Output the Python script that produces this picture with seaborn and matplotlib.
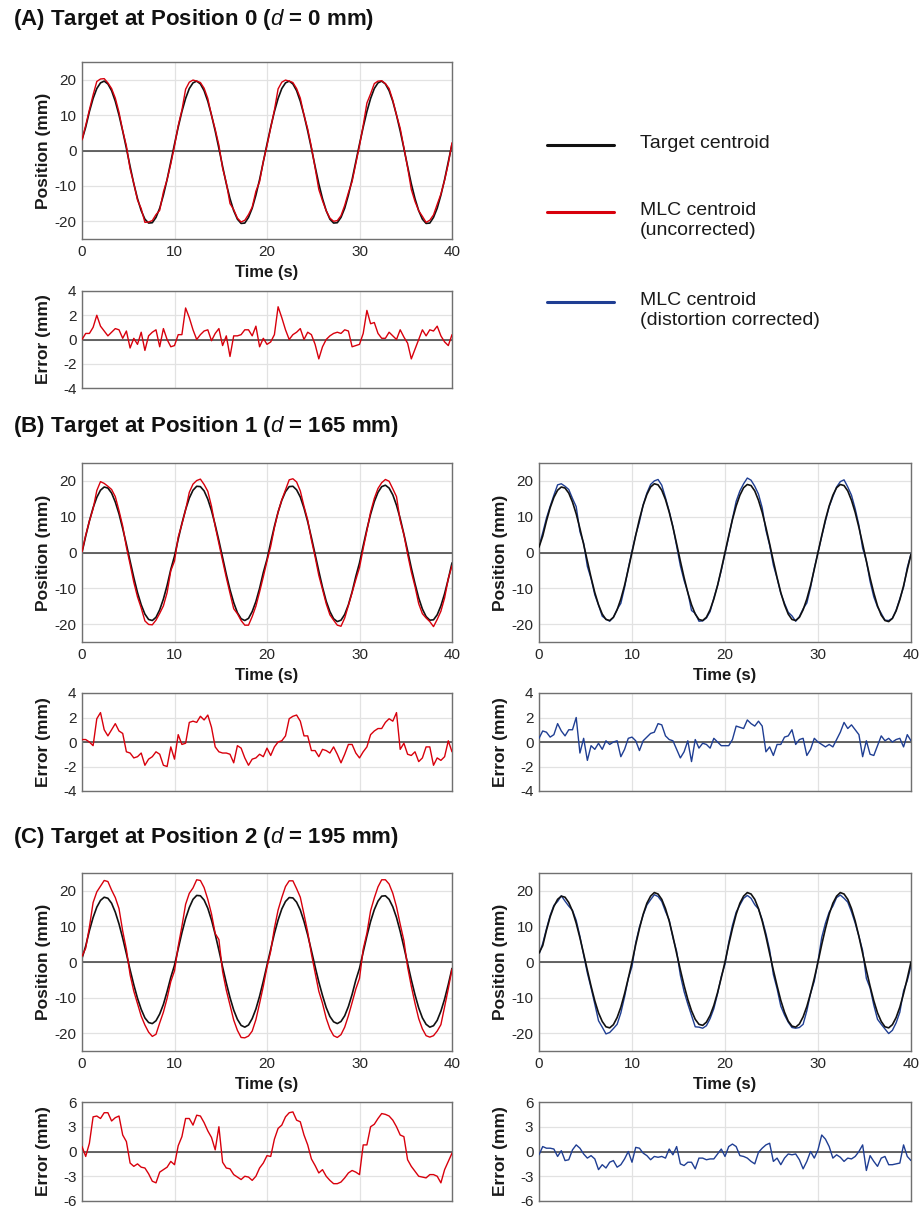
import numpy as np
import pandas as pd
import matplotlib
matplotlib.use("Agg")
import matplotlib.pyplot as plt
from matplotlib.lines import Line2D
import seaborn as sns

sns.set_style("white")
plt.rcParams['font.family'] = ['Liberation Sans', 'DejaVu Sans']
plt.rcParams['mathtext.fontset'] = 'custom'
plt.rcParams['mathtext.it'] = 'Liberation Sans:italic'
plt.rcParams['axes.unicode_minus'] = False

# ---------------- data (0.4 s sampling) ----------------
# target centroid positions (mm)
target_a = [3.0, 6.6, 11.0, 14.7, 17.5, 19.1, 19.6, 18.8, 16.9, 13.9,
            10.0, 5.5, 0.6, -4.5, -9.4, -13.6, -17.0, -19.4, -20.5, -20.4,
            -18.9, -16.3, -12.6, -8.2, -3.2,
            1.8, 6.6, 11.0, 14.7, 17.5, 19.1, 19.6, 18.8, 16.9, 13.9,
            10.0, 5.5, 0.6, -4.5, -9.4, -13.6, -17.0, -19.4, -20.6, -20.5,
            -18.9, -16.3, -12.6, -8.2, -3.2,
            1.8, 6.6, 11.0, 14.7, 17.5, 19.1, 19.6, 18.8, 16.9, 13.9,
            10.0, 5.5, 0.6, -4.5, -9.4, -13.6, -17.0, -19.4, -20.5, -20.4,
            -18.9, -16.3, -12.6, -8.2, -3.2,
            1.8, 6.6, 11.0, 14.7, 17.5, 19.1, 19.6, 18.8, 16.9, 13.9,
            10.0, 5.5, 0.6, -4.5, -9.4, -13.6, -17.0, -19.4, -20.6, -20.5,
            -18.9, -16.3, -12.6, -8.2, -3.2,
            1.8]

target_b_left = [0.0, 4.6, 8.8, 12.5, 15.4, 17.4, 18.3, 18.0, 16.6, 14.1,
                 10.8, 6.7, 2.3, -2.4, -7.0, -11.2, -14.6, -17.2, -18.7, -19.0,
                 -18.1, -16.0, -13.0, -9.2, -4.7,
                 -1.0, 3.7, 8.1, 12.0, 15.2, 17.4, 18.5, 18.4, 17.2, 14.9,
                 11.7, 7.7, 3.3, -1.4, -6.1, -10.4, -14.0, -16.8, -18.5, -19.0,
                 -18.4, -16.5, -13.7, -10.0, -5.6,
                 -1.9, 2.8, 7.3, 11.3, 14.6, 17.0, 18.4, 18.5, 17.5, 15.5,
                 12.4, 8.6, 4.2, -0.5, -5.2, -9.7, -13.6, -16.5, -18.5, -19.3,
                 -18.9, -17.3, -14.6, -11.0, -6.7,
                 -2.9, 1.9, 6.5, 10.7, 14.2, 16.8, 18.4, 18.8, 18.0, 16.1,
                 13.2, 9.5, 5.1, 0.5, -4.3, -8.7, -12.7, -15.8, -17.9, -18.9,
                 -18.8, -17.4, -14.9, -11.5, -7.4,
                 -2.9]

target_b_right = [1.5, 4.6, 8.8, 12.5, 15.4, 17.4, 18.3, 18.0, 16.6, 14.1,
                  10.8, 6.7, 2.3, -2.4, -7.0, -11.2, -14.6, -17.2, -18.7, -19.0,
                  -18.1, -16.0, -13.0, -9.2, -4.7,
                  0.0, 4.8, 9.3, 13.2, 16.2, 18.3, 19.2, 18.9, 17.4, 14.8,
                  11.3, 7.1, 2.4, -2.4, -7.0, -11.2, -14.6, -17.2, -18.7, -19.0,
                  -18.1, -16.0, -13.0, -9.2, -4.7,
                  0.0, 4.7, 9.2, 13.0, 16.0, 18.1, 19.0, 18.7, 17.2, 14.6,
                  11.2, 7.0, 2.4, -2.4, -7.0, -11.2, -14.6, -17.2, -18.7, -19.0,
                  -18.1, -16.0, -13.0, -9.2, -4.7,
                  0.0, 4.7, 9.2, 13.0, 16.0, 18.1, 19.0, 18.7, 17.2, 14.6,
                  11.2, 7.0, 2.4, -2.4, -7.1, -11.3, -14.9, -17.5, -19.0, -19.3,
                  -18.4, -16.3, -13.2, -9.3, -4.8,
                  -0.5]

target_c_left = [1.0, 4.5, 8.8, 12.5, 15.4, 17.3, 18.2, 17.9, 16.5, 14.0,
                 10.7, 6.7, 2.3, -2.2, -6.4, -10.2, -13.3, -15.7, -17.0, -17.3,
                 -16.5, -14.6, -11.9, -8.3, -4.3,
                 -0.9, 3.7, 8.2, 12.2, 15.3, 17.6, 18.7, 18.6, 17.4, 15.1,
                 11.8, 7.8, 3.3, -1.4, -5.9, -10.0, -13.5, -16.1, -17.8, -18.3,
                 -17.7, -15.9, -13.2, -9.6, -5.4,
                 -0.9, 3.6, 8.0, 11.8, 14.9, 17.0, 18.1, 18.0, 16.8, 14.6,
                 11.4, 7.6, 3.2, -1.3, -5.6, -9.4, -12.8, -15.3, -16.8, -17.3,
                 -16.7, -15.1, -12.5, -9.1, -5.1,
                 -1.8, 2.8, 7.3, 11.4, 14.7, 17.1, 18.5, 18.6, 17.6, 15.5,
                 12.5, 8.6, 4.2, -0.4, -5.0, -9.2, -12.9, -15.7, -17.5, -18.3,
                 -17.9, -16.4, -13.8, -10.4, -6.3,
                 -1.8]

target_c_right = [2.5, 4.6, 8.9, 12.7, 15.6, 17.6, 18.5, 18.2, 16.7, 14.3,
                  10.9, 6.8, 2.3, -2.3, -6.8, -10.9, -14.3, -16.7, -18.2, -18.5,
                  -17.6, -15.6, -12.7, -8.9, -4.6,
                  0.0, 4.9, 9.4, 13.4, 16.5, 18.5, 19.5, 19.1, 17.6, 15.0,
                  11.5, 7.2, 2.4, -2.2, -6.6, -10.5, -13.7, -16.1, -17.5, -17.8,
                  -16.9, -15.0, -12.2, -8.6, -4.4,
                  0.0, 4.9, 9.4, 13.4, 16.5, 18.5, 19.5, 19.1, 17.6, 15.0,
                  11.5, 7.2, 2.4, -2.3, -6.7, -10.8, -14.1, -16.6, -18.0, -18.3,
                  -17.4, -15.4, -12.5, -8.8, -4.6,
                  0.0, 4.9, 9.4, 13.4, 16.5, 18.5, 19.5, 19.1, 17.6, 15.0,
                  11.5, 7.2, 2.4, -2.3, -6.8, -10.9, -14.3, -16.7, -18.2, -18.5,
                  -17.6, -15.6, -12.7, -8.9, -4.6,
                  0.0]

# MLC - target errors (mm)
err_a = [0.0, 0.5, 0.5, 1.0, 2.0, 1.1, 0.7, 0.3, 0.6, 0.9,
         0.8, 0.1, 0.7, -0.7, 0.1, -0.4, 0.6, -0.9, 0.3, 0.6,
         0.8, -0.6, 0.9, 0.0, -0.6, -0.5, 0.4, 0.4, 2.6, 1.8,
         0.8, 0.0, 0.4, 0.7, 0.8, -0.1, 0.5, 0.9, -0.5, 0.3,
         -1.4, 0.3, 0.3, 0.4, 0.8, 0.8, 0.3, 1.1, -0.6, 0.1,
         -0.4, -0.2, 0.4, 2.7, 1.8, 0.8, 0.0, 0.4, 0.6, 0.9,
         0.0, 0.6, 0.4, -0.4, -1.6, -0.6, 0.0, 0.3, 0.5, 0.6,
         0.5, 0.8, 0.7, -0.6, -0.5, -0.4, 0.5, 2.4, 1.3, 1.4,
         0.5, 0.1, 0.1, 0.6, 0.3, 0.0, 0.8, 0.2, -0.3, -1.6,
         -0.8, 0.0, 0.8, 0.3, 0.8, 0.7, 1.1, 0.3, -0.2, -0.5,
         0.4]

err_b_unc = [0.2, 0.2, 0.0, -0.3, 1.9, 2.4, 1.0, 0.5, 1.0, 1.5,
             0.9, 0.7, -0.8, -0.9, -1.3, -1.2, -0.9, -1.9, -1.4, -1.2,
             -0.8, -1.0, -1.9, -2.0, -0.4, -1.4, 0.6, -0.2, -0.1, 1.6,
             1.7, 1.6, 2.1, 1.8, 2.2, 1.2, -0.4, -0.8, -0.9, -0.9,
             -1.0, -1.7, -0.3, -0.5, -1.3, -1.9, -1.4, -1.3, -1.0, -1.2,
             -0.5, -1.1, -0.4, 0.0, 0.1, 0.5, 1.9, 2.1, 2.2, 1.7,
             0.5, 0.5, -0.7, -0.7, -1.2, -0.6, -0.7, -0.9, -0.4, -1.0,
             -1.7, -1.0, -0.2, -0.2, -0.9, -1.3, -0.8, -0.4, 0.6, 0.9,
             1.1, 1.1, 1.6, 1.9, 1.7, 2.4, -0.6, -0.1, -1.0, -1.1,
             -0.8, -1.6, -1.3, -0.4, -0.4, -1.9, -1.3, -1.5, -1.2, 0.1,
             -0.8]

err_b_cor = [0.3, 0.9, 0.8, 0.4, 0.6, 1.5, 0.9, 0.5, 1.0, 1.0,
             2.0, -0.9, 0.3, -1.5, -0.3, -0.6, -0.1, -0.6, 0.1, -0.2,
             0.0, 0.1, -1.2, -0.6, 0.3, 0.4, 0.1, -0.7, 0.1, 0.4,
             0.7, 0.8, 1.5, 1.4, 0.5, 0.2, 0.1, -0.6, -1.3, -0.8,
             0.1, -1.6, 0.2, -0.5, -0.1, -0.2, -0.5, 0.3, 0.0, -0.3,
             -0.3, -0.3, 0.2, 1.3, 1.2, 1.1, 1.8, 1.5, 1.3, 1.7,
             1.3, -0.8, -0.4, -1.1, -0.2, -0.2, 0.4, 0.5, 1.0, -0.2,
             0.2, 0.3, -1.1, -0.6, 0.3, 0.0, -0.2, -0.4, -0.2, -0.4,
             0.2, 0.8, 1.6, 1.1, 1.4, 1.0, 0.6, -1.2, 0.1, -1.0,
             -1.1, -0.3, 0.5, 0.1, 0.3, 0.0, 0.2, 0.3, -0.4, 0.6,
             0.1]

err_c_unc = [0.6, -0.6, 1.0, 4.2, 4.3, 4.0, 4.7, 4.7, 3.7, 4.1,
             4.3, 2.0, 1.2, -1.4, -1.8, -1.5, -1.9, -2.0, -2.7, -3.6,
             -3.8, -2.5, -2.2, -1.9, -1.2, -1.6, 0.7, 1.8, 4.0, 4.0,
             3.2, 4.4, 4.3, 3.5, 2.5, 1.7, 0.2, 3.0, -1.3, -2.0,
             -2.1, -2.8, -3.1, -3.4, -3.0, -3.1, -3.5, -3.0, -2.0, -1.4,
             -0.5, -0.6, 1.5, 2.8, 3.2, 4.2, 4.7, 4.8, 3.8, 3.6,
             2.0, 0.8, -0.9, -1.7, -2.6, -2.2, -3.0, -3.5, -3.9, -3.9,
             -3.7, -3.2, -2.6, -2.3, -2.5, -2.8, 0.8, 0.8, 3.0, 3.3,
             4.0, 4.6, 4.5, 4.3, 3.8, 3.0, 2.0, 1.8, -1.0, -1.8,
             -2.4, -3.0, -3.1, -3.2, -2.8, -2.8, -3.0, -3.8, -2.2, -1.2,
             -0.2]

err_c_cor = [-0.4, 0.6, 0.4, 0.4, 0.3, -0.6, 0.1, -1.1, -1.0, 0.2,
             0.8, 0.4, -0.3, -0.8, -0.5, -0.9, -2.2, -1.6, -2.0, -1.3,
             -1.1, -1.9, -1.6, -0.9, 0.0, -1.3, 0.5, 0.4, -0.2, -0.5,
             -1.0, -0.6, -0.7, -0.6, -0.8, 0.3, -0.4, 0.6, -1.5, -1.7,
             -1.3, -1.3, -2.1, -0.8, -0.8, -1.0, -0.9, -0.9, -0.3, 0.3,
             -0.6, 0.6, 0.9, 0.6, -0.5, -0.6, -0.8, -1.2, -1.5, -0.1,
             0.4, 0.8, 1.0, -1.2, -0.8, -1.6, -0.8, -0.3, -0.4, -0.3,
             -1.0, -2.1, -1.2, 0.0, -0.8, 0.2, 2.0, 1.5, 0.6, -0.8,
             -0.4, -0.7, -1.2, -0.8, -0.9, -0.6, 0.0, 0.8, -2.3, -0.5,
             -1.2, -1.8, -0.8, -0.6, -1.6, -1.6, -1.5, -1.4, 0.8, -0.6,
             -1.1]

time = np.linspace(0, 40, len(target_a))

RED = '#d8000c'
BLUE = '#1f3e93'
BLACK = '#111111'
FRAME = '#707070'
GRID = '#e2e2e2'

W, H = 921, 1208
fig = plt.figure(figsize=(W / 100, H / 100), dpi=100)


def box(x0, y0, x1, y1):
    return [x0 / W, 1 - y1 / H, (x1 - x0) / W, (y1 - y0) / H]


def style_axes(ax, ylim, yticks, w_px, h_px, show_x=True):
    ax.set_xlim(0, 40)
    ax.set_ylim(*ylim)
    ax.set_xticks([0, 10, 20, 30, 40])
    ax.set_yticks(yticks)
    ax.grid(True, color=GRID, lw=0.9)
    ax.set_axisbelow(True)
    ax.axhline(0, color='#3c3c3c', lw=1.1, zorder=1.5)
    for s in ax.spines.values():
        s.set_color(FRAME)
        s.set_linewidth(1.0)
        s.set_visible(True)
    ax.tick_params(direction='in', length=3, width=0.8, color=FRAME,
                   labelsize=11, labelcolor='#262626', pad=4)
    if show_x:
        ax.set_xlabel('Time (s)', fontsize=12, fontweight='bold', color='#1a1a1a')
        ax.xaxis.set_label_coords(0.5, -26 / h_px)
    else:
        ax.set_xlabel('')
        ax.set_xticklabels([])
    ax.yaxis.set_label_coords(-31 / w_px, 0.5)


def draw_position(rect, target, err, color, mlc_on_top):
    ax = fig.add_axes(box(*rect))
    df = pd.DataFrame({'t': time, 'target': target, 'mlc': np.array(target) + np.array(err)})
    z_mlc, z_tgt = (3, 2) if mlc_on_top else (2, 3)
    sns.lineplot(data=df, x='t', y='target', ax=ax, color=BLACK, lw=1.2,
                 estimator=None, sort=False, legend=False, zorder=z_tgt)
    sns.lineplot(data=df, x='t', y='mlc', ax=ax, color=color, lw=1.0,
                 estimator=None, sort=False, legend=False, zorder=z_mlc)
    ax.set_ylabel('Position (mm)', fontsize=12.5, fontweight='bold', color='#1a1a1a')
    style_axes(ax, (-25, 25), [-20, -10, 0, 10, 20],
               rect[2] - rect[0], rect[3] - rect[1])
    return ax


def draw_error(rect, err, color, lim):
    ax = fig.add_axes(box(*rect))
    df = pd.DataFrame({'t': time, 'err': err})
    sns.lineplot(data=df, x='t', y='err', ax=ax, color=color, lw=1.0,
                 estimator=None, sort=False, legend=False, zorder=3)
    ax.set_ylabel('Error (mm)', fontsize=12.5, fontweight='bold', color='#1a1a1a')
    step = lim / 2
    style_axes(ax, (-lim, lim), [-lim, -step, 0, step, lim],
               rect[2] - rect[0], rect[3] - rect[1], show_x=False)
    return ax


# ---------------- panels ----------------
LX0, LX1 = 82, 452
RX0, RX1 = 539, 911

# (A)
draw_position((LX0, 62, LX1, 239), target_a, err_a, RED, True)
draw_error((LX0, 291, LX1, 388), err_a, RED, 4)

# (B)
draw_position((LX0, 463, LX1, 642), target_b_left, err_b_unc, RED, True)
draw_position((RX0, 463, RX1, 642), target_b_right, err_b_cor, BLUE, False)
draw_error((LX0, 693, LX1, 791), err_b_unc, RED, 4)
draw_error((RX0, 693, RX1, 791), err_b_cor, BLUE, 4)

# (C)
draw_position((LX0, 873, LX1, 1051), target_c_left, err_c_unc, RED, True)
draw_position((RX0, 873, RX1, 1051), target_c_right, err_c_cor, BLUE, False)
draw_error((LX0, 1102, LX1, 1201), err_c_unc, RED, 6)
draw_error((RX0, 1102, RX1, 1201), err_c_cor, BLUE, 6)

# section titles
titles = [(20, r'(A) Target at Position 0 ($d$ = 0 mm)'),
          (427, r'(B) Target at Position 1 ($d$ = 165 mm)'),
          (837, r'(C) Target at Position 2 ($d$ = 195 mm)')]
for ty, txt in titles:
    fig.text(13 / W, 1 - ty / H, txt, fontsize=16, fontweight='bold',
             ha='left', va='center', color='#111111')

# legend (drawn by hand)
legend_items = [(145, BLACK, 'Target centroid'),
                (212, RED, 'MLC centroid\n(uncorrected)'),
                (302, BLUE, 'MLC centroid\n(distortion corrected)')]
for ly, c, label in legend_items:
    fig.add_artist(Line2D([547 / W, 614 / W], [1 - ly / H, 1 - ly / H],
                          transform=fig.transFigure, color=c, lw=2.2))
    fig.text(640 / W, 1 - (ly - 10) / H, label, fontsize=14, ha='left', va='top',
             color='#1a1a1a', linespacing=1.25)

fig.savefig('out.png', dpi=100)
